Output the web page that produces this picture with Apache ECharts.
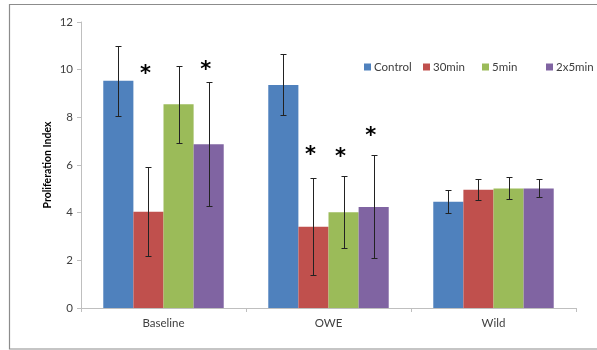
<!DOCTYPE html>
<html>
<head>
<meta charset="utf-8">
<script src="https://cdn.jsdelivr.net/npm/echarts@6/dist/echarts.min.js"></script>
<style>html,body{margin:0;padding:0;background:#fff;}#c{width:597px;height:350px;}</style>
</head>
<body>
<div id="c"></div>
<script>
const categories = ['Baseline', 'OWE', 'Wild'];
const seriesNames = ['Control', '30min', '5min', '2x5min'];
const seriesColors = ['#4F81BD', '#C0504D', '#9BBB59', '#8064A2'];
const controlVals = [9.53, 9.36, 4.46];
const min30Vals = [4.04, 3.41, 4.96];
const min5Vals = [8.55, 4.02, 5.01];
const twoX5Vals = [6.87, 4.24, 5.01];
const controlErr = [[8.06, 10.98], [8.11, 10.65], [3.97, 4.95]];
const min30Err = [[2.19, 5.90], [1.38, 5.47], [4.52, 5.43]];
const min5Err = [[6.94, 10.17], [2.51, 5.55], [4.57, 5.50]];
const twoX5Err = [[4.29, 9.48], [2.11, 6.42], [4.65, 5.40]];
// asterisks: [categoryIndex, seriesIndex, y value]
const asterisks = [[0, 1, 9.8], [0, 3, 9.95], [1, 1, 6.4], [1, 2, 6.3], [1, 3, 7.2]];
const yTicks = [0, 2, 4, 6, 8, 10, 12];

const allVals = [controlVals, min30Vals, min5Vals, twoX5Vals];
const allErr = [controlErr, min30Err, min5Err, twoX5Err];
const GAP = 0.27;
const font = 'Lato, "Open Sans", sans-serif';

function barOffset(api, sIdx) {
  const band = api.size([1, 0])[0];
  const bw = band * (1 - GAP) / 4;
  return (sIdx - 1.5) * bw;
}

const errData = [];
allErr.forEach((arr, s) => arr.forEach((e, c) => errData.push([c, e[0], e[1], s])));

const series = seriesNames.map((n, i) => ({
  name: n, type: 'bar', data: allVals[i], barGap: '0%', barCategoryGap: (GAP * 100) + '%',
  itemStyle: { color: seriesColors[i] }, z: 2
}));
series.push({
  type: 'custom', z: 5, silent: true,
  data: errData,
  renderItem: function (params, api) {
    const c = api.value(0), lo = api.value(1), hi = api.value(2), s = api.value(3);
    const off = barOffset(api, s);
    const p1 = api.coord([c, lo]), p2 = api.coord([c, hi]);
    const x = Math.round(p1[0] + off) + 0.5;
    const y1 = Math.round(p1[1]) + 0.5, y2 = Math.round(p2[1]) + 0.5;
    const st = { stroke: '#222', lineWidth: 1 };
    return { type: 'group', children: [
      { type: 'line', shape: { x1: x, y1: y1, x2: x, y2: y2 }, style: st },
      { type: 'line', shape: { x1: x - 3, y1: y1, x2: x + 3, y2: y1 }, style: st },
      { type: 'line', shape: { x1: x - 3, y1: y2, x2: x + 3, y2: y2 }, style: st }
    ]};
  }
});
series.push({
  type: 'custom', z: 6, silent: true,
  data: asterisks.map(a => [a[0], a[2], a[1]]),
  renderItem: function (params, api) {
    const c = api.value(0), v = api.value(1), s = api.value(2);
    const p = api.coord([c, v]);
    const x = p[0] + barOffset(api, s) - 3;
    return { type: 'text', x: x, y: p[1], style: { text: '*', fill: '#000', font: 'bold 21px "DejaVu Sans", sans-serif', align: 'center', verticalAlign: 'middle' } };
  }
});

const legendLefts = [359, 418, 477, 541];
const legends = seriesNames.map((n, i) => ({
  data: [n], left: legendLefts[i], top: 56, itemWidth: 7, itemHeight: 7, itemGap: 4,
  icon: 'rect', textStyle: { fontFamily: font, fontSize: 11.5, color: '#404040', padding: [0, 0, 0, -2] }
}));

const chart = echarts.init(document.getElementById('c'), null, { renderer: 'canvas' });
chart.setOption({
  animation: false,
  backgroundColor: '#fff',
  legend: legends,
  grid: { left: 81, right: 21, top: 22, bottom: 42, containLabel: false },
  xAxis: {
    type: 'category', data: categories,
    axisLine: { lineStyle: { color: '#BFBFBF' } },
    axisTick: { show: true, length: 4, lineStyle: { color: '#BFBFBF' } },
    axisLabel: { fontFamily: font, fontSize: 11.5, color: '#404040', margin: 9 }
  },
  yAxis: {
    type: 'value', min: 0, max: 12, interval: 2,
    name: 'Proliferation Index', nameLocation: 'middle', nameGap: 28, nameMoveOverlap: false,
    nameTextStyle: { fontFamily: font, fontSize: 10.5, fontWeight: 'bold', color: '#000' },
    splitLine: { show: false },
    axisLine: { show: true, lineStyle: { color: '#BFBFBF' } },
    axisTick: { show: true, length: 4, lineStyle: { color: '#BFBFBF' } },
    axisLabel: { fontFamily: font, fontSize: 11.5, color: '#404040', margin: 8,
      formatter: v => yTicks.includes(v) ? String(v) : '' }
  },
  graphic: [{ type: 'rect', shape: { x: 9.5, y: 4.5, width: 600, height: 344.5 }, style: { fill: null, stroke: '#8C8C8C', lineWidth: 1.2 }, silent: true, z: 100 }],
  series: series
});
</script>
</body>
</html>
